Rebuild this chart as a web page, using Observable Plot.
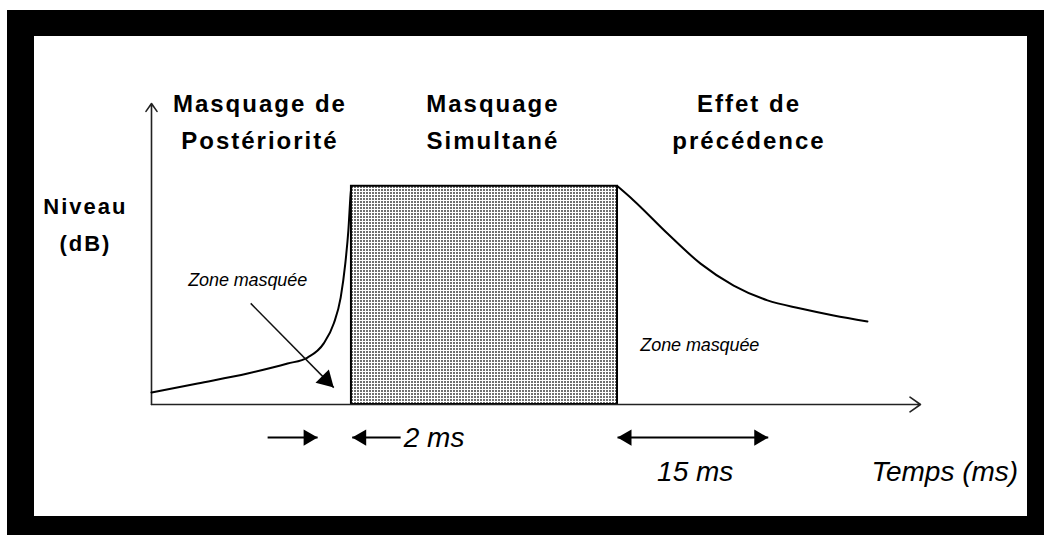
<!DOCTYPE html>
<html><head><meta charset="utf-8">
<script src="https://cdn.jsdelivr.net/npm/d3@7"></script>
<script src="https://cdn.jsdelivr.net/npm/@observablehq/plot@0.6"></script>
<style>
html,body{margin:0;padding:0;background:#fff;}
#frame{position:absolute;left:7px;top:10px;width:1037px;height:525px;background:#000;}
#inner{position:absolute;left:27px;top:26px;width:993px;height:480px;background:#fff;}
#chart{position:absolute;left:0;top:0;}
</style></head>
<body><div id="frame"><div id="inner"></div></div><div id="chart"></div>
<script>
// ---- data (time in arbitrary units 0..100 along the time axis, level 0..100 along the level axis)
const timeAxis = [0, 100];
const levelAxis = [0, 100];
// backward (post-) masking curve, rising to the masker onset
const backwardCurve = [[0,4.0],[6.0,7.0],[12.5,10.3],[17.7,13.6],[20.3,15.6],[22.4,20.3],[23.7,26.9],[24.6,35.5],[25.2,46.8],[25.6,57.8],[25.9,70.1],[26.0,72.5]];
// forward masking (precedence) curve, decaying after the masker
const forwardCurve = [[60.6,72.5],[62.7,67.8],[67.1,56.8],[71.4,46.8],[75.7,39.5],[80.1,34.6],[84.4,31.9],[88.7,29.6],[93.1,27.6]];
// simultaneous masker
const masker = [{start: 26.0, end: 60.6, base: 0, level: 72.5}];
// region titles
const titleLabels = ["Masquage de\nPostériorité", "Masquage\nSimultané", "Effet de\nprécédence"];
const titleTimes = [14.1, 44.4, 77.7];
const titleLevel = 106;
// y label
const levelLabel = "Niveau\n(dB)";
const levelLabelPos = {t: -8.6, v: 72.1};
// masked-zone annotations
const zoneLabels = ["Zone masquée", "Zone masquée"];
const zoneTimes = [12.5, 71.3];
const zoneLevels = [41.2, 19.6];
const zonePointer = [{x1: 12.9, y1: 33.6, x2: 23.7, y2: 5.6}];
// duration markers below the time axis
const markerLevel = -11.0;
const durationSegments = [{x1: 15.1, x2: 21.6}, {x1: 26.1, x2: 32.4}, {x1: 60.6, x2: 80.2}];
const rightHeads = [21.6, 80.2];
const leftHeads = [26.1, 60.6];
const durationLabels = [{t: 32.8, v: -11.0, text: "2 ms", anchor: "start"}, {t: 70.7, v: -22.6, text: "15 ms", anchor: "middle"}];
const timeLabel = {t: 112.7, v: -22.6, text: "Temps (ms)"};

const font = "'Liberation Sans', Arial, sans-serif";

const svg = Plot.plot({
  width: 1044, height: 535,
  x: {domain: timeAxis, range: [151, 920], axis: null},
  y: {domain: levelAxis, range: [404, 103], axis: null},
  style: {background: "transparent", overflow: "visible"},
  marks: [
    Plot.rect(masker, {x1: "start", x2: "end", y1: "base", y2: "level", fill: "url(#dots)", stroke: "#000", strokeWidth: 2}),
    Plot.arrow([{x1: timeAxis[0], y1: levelAxis[0], x2: timeAxis[1], y2: levelAxis[0]}], {x1: "x1", y1: "y1", x2: "x2", y2: "y2", stroke: "#222", strokeWidth: 1.6, headLength: 12, headAngle: 70}),
    Plot.arrow([{x1: timeAxis[0], y1: levelAxis[0], x2: timeAxis[0], y2: levelAxis[1]}], {x1: "x1", y1: "y1", x2: "x2", y2: "y2", stroke: "#222", strokeWidth: 1.6, headLength: 9, headAngle: 70}),
    Plot.line(backwardCurve, {x: d => d[0], y: d => d[1], curve: "monotone-x", stroke: "#000", strokeWidth: 2}),
    Plot.line(forwardCurve, {x: d => d[0], y: d => d[1], curve: "monotone-x", stroke: "#000", strokeWidth: 2}),
    Plot.link(zonePointer, {x1: "x1", y1: "y1", x2: "x2", y2: "y2", stroke: "#111", strokeWidth: 1.5}),
    Plot.dot(zonePointer, {x: "x2", y: "y2", symbol: "triangle", r: 7, fill: "#000", rotate: 135, dx: -7.7, dy: -7.75}),
    Plot.link(durationSegments, {x1: "x1", x2: "x2", y1: () => markerLevel, y2: () => markerLevel, stroke: "#000", strokeWidth: 2}),
    Plot.dot(rightHeads, {x: d => d, y: () => markerLevel, symbol: "triangle", r: 6, fill: "#000", rotate: 90, dx: -9.3}),
    Plot.dot(leftHeads, {x: d => d, y: () => markerLevel, symbol: "triangle", r: 6, fill: "#000", rotate: -90, dx: 9.3}),
    Plot.text(titleLabels, {x: (d, i) => titleTimes[i], y: () => titleLevel, text: d => d, lineAnchor: "top", lineHeight: 1.54, fontSize: 24, fontWeight: "bold", fontFamily: font, fill: "#000"}),
    Plot.text([levelLabel], {x: () => levelLabelPos.t, y: () => levelLabelPos.v, text: d => d, lineAnchor: "top", lineHeight: 1.7, fontSize: 22, fontWeight: "bold", fontFamily: font, fill: "#000"}),
    Plot.text(zoneLabels, {x: (d, i) => zoneTimes[i], y: (d, i) => zoneLevels[i], text: d => d, fontSize: 18, fontStyle: "italic", fontFamily: font, fill: "#000"}),
    Plot.text(durationLabels.filter(d => d.anchor === "start"), {x: "t", y: "v", text: "text", textAnchor: "start", fontSize: 28, fontStyle: "italic", fontFamily: font, fill: "#000"}),
    Plot.text(durationLabels.filter(d => d.anchor === "middle"), {x: "t", y: "v", text: "text", textAnchor: "middle", fontSize: 28, fontStyle: "italic", fontFamily: font, fill: "#000"}),
    Plot.text([timeLabel], {x: "t", y: "v", text: "text", textAnchor: "end", fontSize: 28, fontStyle: "italic", fontFamily: font, fill: "#000"})
  ]
});

d3.select(svg).insert("defs", ":first-child").html(
  '<pattern id="dots" width="3" height="3" patternUnits="userSpaceOnUse">' +
  '<rect width="3" height="3" fill="#ffffff"/><rect x="0" y="0" width="2" height="2" fill="#707070"/></pattern>');
d3.select(svg).selectAll("g[font-weight='bold']").style("letter-spacing", "2px");
d3.select(svg).selectAll("g[font-size='18']").style("letter-spacing", "-0.1px");
document.getElementById("chart").appendChild(svg);
</script>
</body></html>
